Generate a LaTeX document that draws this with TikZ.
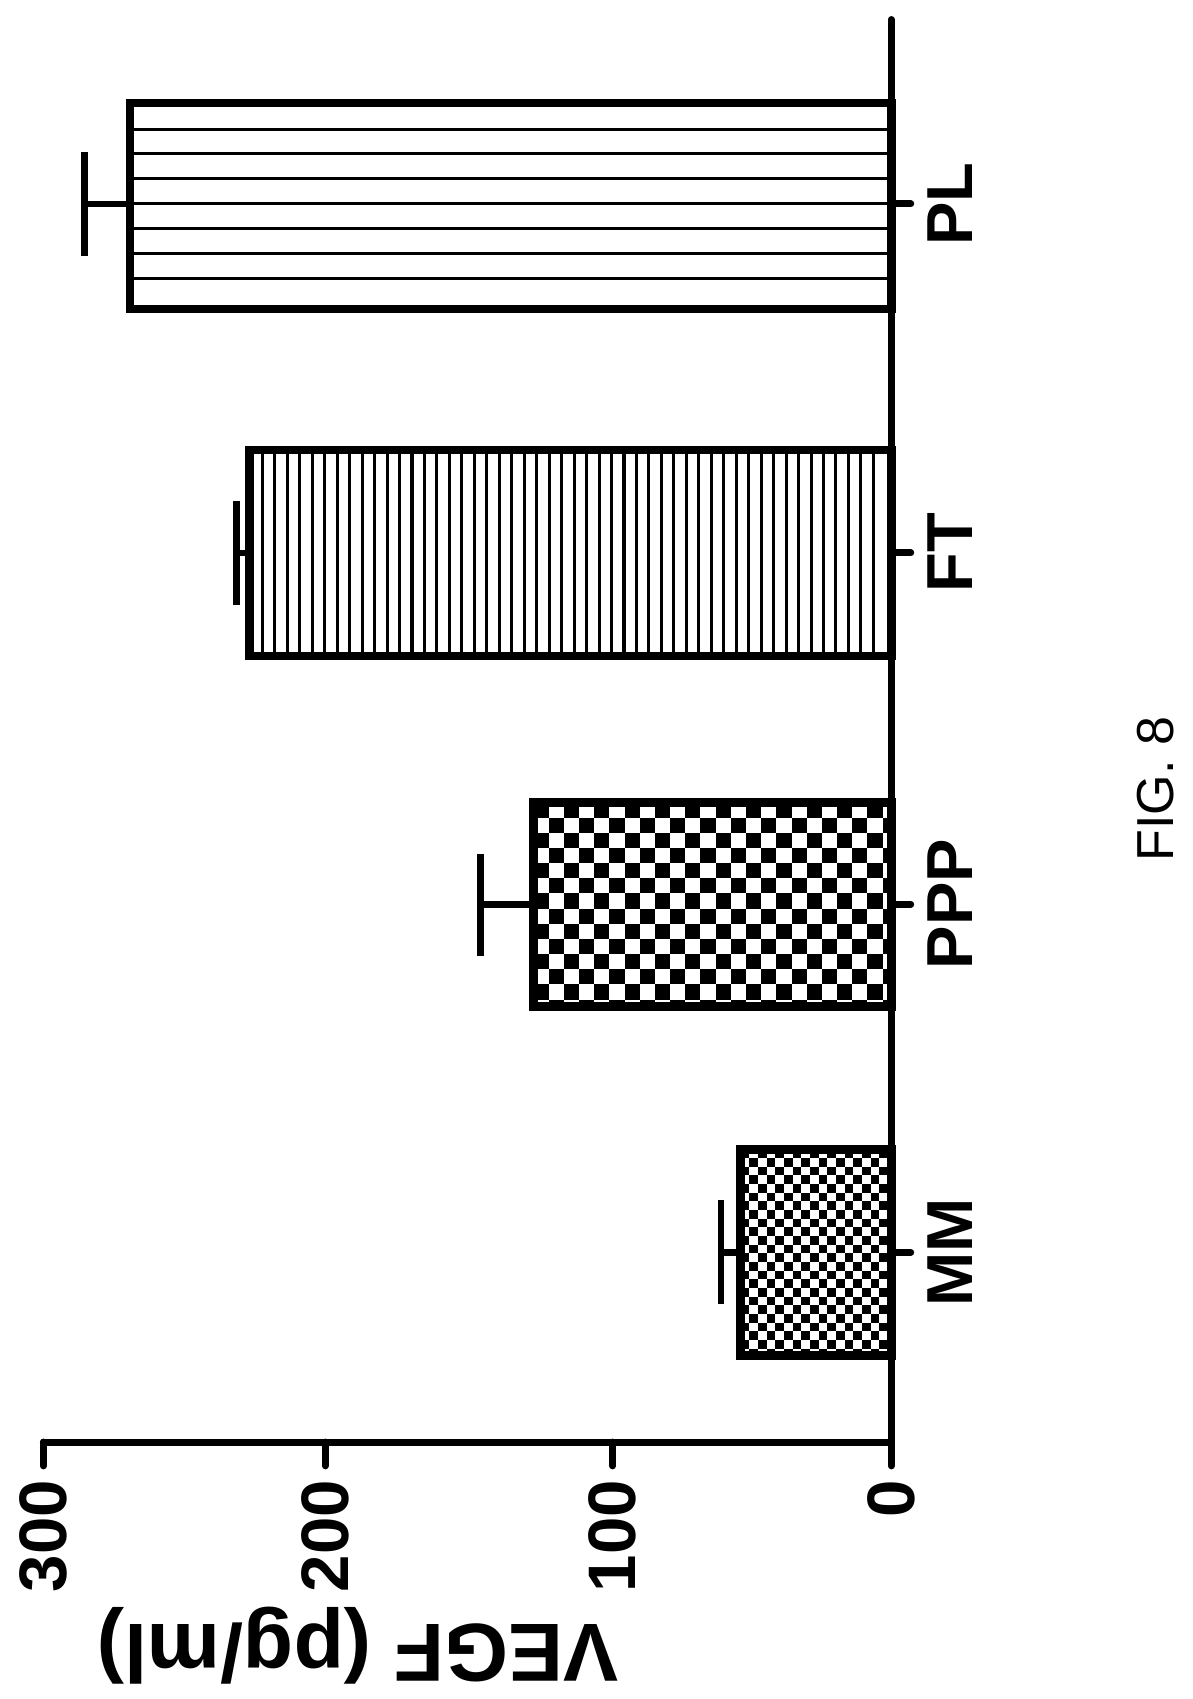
\documentclass[tikz,border=0pt]{standalone}
\usepackage{fontspec}
\setmainfont{Liberation Sans}
\begin{document}
\begin{tikzpicture}[x=0.5pt,y=-0.5pt,
  barline/.style={line width=4pt},
  axisline/.style={line width=3.2pt,line cap=round},
  ticklab/.style={font=\fontsize{31}{31}\selectfont\bfseries,rotate=90},
  catlab/.style={font=\fontsize{30}{30}\selectfont\bfseries,rotate=90},
  errline/.style={line width=3pt}]
\useasboundingbox (0,0) rectangle (1100,1567);
% axes
\draw[axisline] (822,18) -- (822,1330) -- (40,1330);
\foreach \x/\v in {40/300,300/200,565/100,822/0}{
  \draw[axisline] (\x,1330) -- (\x,1352);
  \node[ticklab,anchor=east] (t\v) at (\x,1358) {\v};
}
\node[font=\fontsize{38}{38}\selectfont\bfseries,rotate=180] (ylab) at (330,1518) {VEGF (pg/ml)};
% category ticks
\foreach \y in {1155,834,510,188}{\draw[axisline] (822,\y) -- (840,\y);}
% MM
\begin{scope}
\clip (683,1060) rectangle (822,1250);
\foreach \i in {0,...,18}{\foreach \j in {0,...,24}{
  \pgfmathtruncatemacro{\cpar}{mod(\i+\j,2)}
  \ifnum\cpar=0 \fill (683+\i*8,1060+\j*8) rectangle ++(8,8);\fi}}
\end{scope}
\draw[barline] (683,1060) rectangle (822,1250);
\draw[errline] (683,1155) -- (665,1155) (665,1107) -- (665,1203);
% PPP
\begin{scope}
\clip (492,740) rectangle (822,928);
\foreach \i in {0,...,24}{\foreach \j in {0,...,14}{
  \pgfmathtruncatemacro{\cpar}{mod(\i+\j,2)}
  \ifnum\cpar=0 \fill (492+\i*14,740+\j*14) rectangle ++(14,14);\fi}}
\end{scope}
\draw[barline] (492,740) rectangle (822,928);
\draw[errline] (492,834) -- (443,834) (443,788) -- (443,882);
% FT
\foreach \x in {242,253.5,...,815}{\draw[line width=1.4pt] (\x,415) -- (\x,605);}
\draw[barline] (230,415) rectangle (822,605);
\draw[errline] (230,510) -- (218,510) (218,462) -- (218,558);
% PL
\foreach \y in {119,142,...,270}{\draw[line width=1.4pt] (120,\y) -- (822,\y);}
\draw[barline] (120,95) rectangle (822,285);
\draw[errline] (120,188) -- (78,188) (78,140) -- (78,236);
% labels
\node[catlab] (lmm) at (876,1155) {MM};
\node[catlab] (lppp) at (876,834) {PPP};
\node[catlab] (lft) at (876,510) {FT};
\node[catlab] (lpl) at (876,188) {PL};
\node[font=\fontsize{24}{24}\selectfont,rotate=90] (fig) at (1066,728) {FIG. 8};
\end{tikzpicture}
\end{document}
